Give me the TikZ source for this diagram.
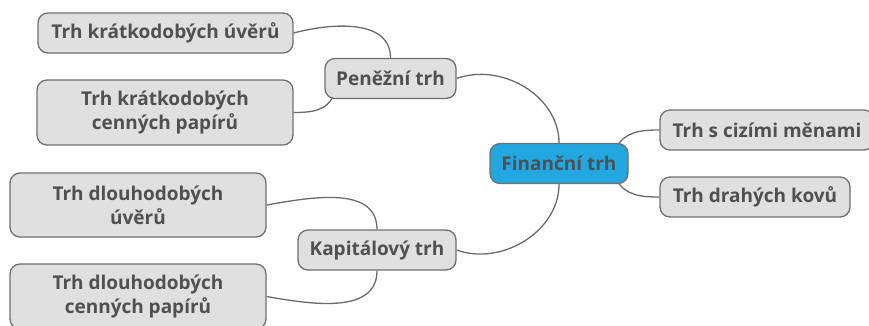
\documentclass[tikz,border=0pt]{standalone}
\usepackage{fontspec}
\setmainfont{Open Sans}[BoldFont={Open Sans Bold}]
\usetikzlibrary{backgrounds,calc}
\definecolor{txt}{HTML}{505050}
\definecolor{boxfill}{HTML}{E0E0E0}
\definecolor{boxline}{HTML}{707070}
\definecolor{blue}{HTML}{22A7E0}
\definecolor{conn}{HTML}{6B6B6B}
\begin{document}
\begin{tikzpicture}[x=1pt,y=-1pt,
  box/.style={draw=boxline,fill=boxfill,line width=1.3pt,rounded corners=10pt,
    text=txt,font=\fontsize{19}{24}\selectfont\bfseries,align=center,inner sep=0pt},
  root/.style={box,fill=blue},
  conn/.style={draw=conn,line width=1.3pt}]
\useasboundingbox (0,0) rectangle (869,325);
\node[root,minimum width=138pt,minimum height=40pt] (fin) at (559,163.5) {Finanční trh};
\node[box,minimum width=214pt,minimum height=40pt] (czm) at (767,130) {Trh s cizími měnami};
\node[box,minimum width=190pt,minimum height=40pt] (kov) at (755,197) {Trh drahých kovů};
\node[box,minimum width=131pt,minimum height=40pt] (pen) at (390.5,78.5) {Peněžní trh};
\node[box,minimum width=255pt,minimum height=40pt] (kuv) at (165.5,33) {Trh krátkodobých úvěrů};
\node[box,minimum width=256pt,minimum height=65pt] (kcp) at (165,112.5) {Trh krátkodobých\\cenných papírů};
\node[box,minimum width=158pt,minimum height=40pt] (kap) at (377,250) {Kapitálový trh};
\node[box,minimum width=256pt,minimum height=64pt] (duv) at (138,205) {Trh dlouhodobých\\úvěrů};
\node[box,minimum width=256pt,minimum height=65pt] (dcp) at (138,296.5) {Trh dlouhodobých\\cenných papírů};
\begin{scope}[on background layer]
\coordinate (fa) at ($(fin.north east)+(-12,4)$);
\coordinate (fb) at ($(fin.south east)+(-12,-4)$);
\coordinate (pa) at ($(pen.south west)+(9,-4)$);
\draw[conn] (pen.east) to[out=20,in=90] (fin.north);
\draw[conn] (kap.east) to[out=-20,in=-90] (fin.south);
\draw[conn] (fa) to[out=60,in=180] (czm.west);
\draw[conn] (fb) to[out=-60,in=180] (kov.west);
\draw[conn] (kuv.east) to[out=15,in=90] (pen.north);
\draw[conn] (kcp.east) to[out=0,in=-110] (pa);
\draw[conn] (duv.east) to[out=10,in=90] (kap.north);
\draw[conn] (dcp.east) to[out=-10,in=-90] (kap.south);
\end{scope}
\end{tikzpicture}
\end{document}
